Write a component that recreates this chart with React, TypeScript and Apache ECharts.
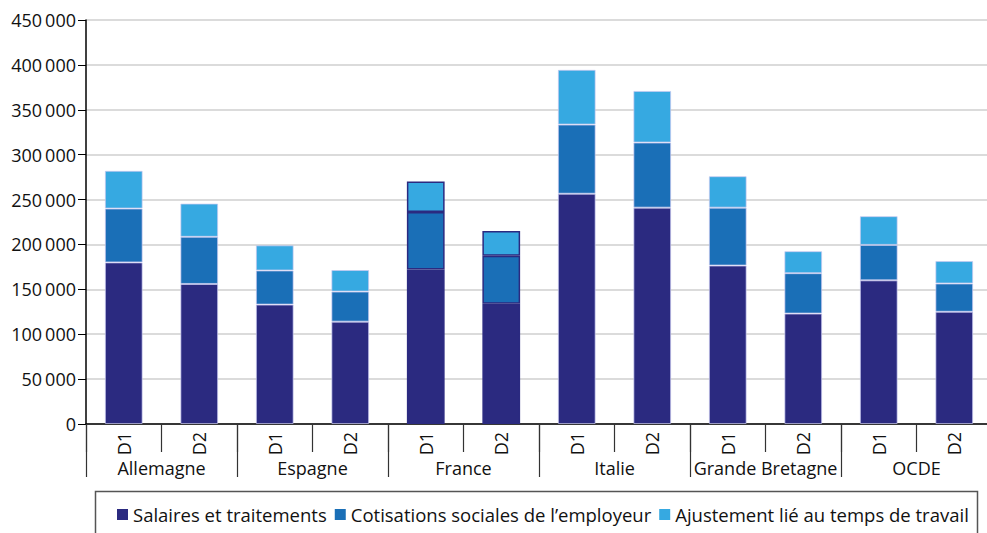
import React, { useEffect, useRef } from "react";
import * as echarts from "echarts";

const periods = ["D1", "D2", "D1", "D2", "D1", "D2", "D1", "D2", "D1", "D2", "D1", "D2"];
const countries = ["Allemagne", "Espagne", "France", "Italie", "Grande Bretagne", "OCDE"];
const salaires = [180000, 156000, 133000, 114000, 172000, 134000, 256500, 241000, 176500, 123000, 160000, 125000];
const cotisations = [60000, 52500, 38000, 33500, 64000, 53500, 77000, 72500, 64500, 45000, 39500, 31500];
const ajustement = [42000, 37000, 28000, 24000, 34000, 27500, 61000, 57500, 35000, 24500, 32000, 25000];
const seriesNames = ["Salaires et traitements", "Cotisations sociales de l\u2019employeur", "Ajustement li\u00e9 au temps de travail"];
const colors = ["#2B2A80", "#1A6FB7", "#36A9E1"];

const FONT = "Open Sans";
const FS = 18;

export default function App() {
  const ref = useRef<HTMLDivElement>(null);
  useEffect(() => {
    document.body.style.margin = "0";
    const chart = echarts.init(ref.current!, null, { renderer: "svg" });
    const mk = (vals: number[]) =>
      vals.map((v, i) => {
        const france = i === 4 || i === 5;
        return {
          value: v,
          itemStyle: france
            ? { borderColor: "#2B2A80", borderWidth: 1.5 }
            : { borderColor: "rgba(200,200,240,0.7)", borderWidth: 1 },
        };
      });
    const data = [salaires, cotisations, ajustement];
    chart.setOption({
      animation: false,
      textStyle: { fontFamily: FONT },
      grid: { left: 86, top: 20, width: 906, height: 404, containLabel: false },
      legend: {
        left: 112,
        top: 500,
        itemWidth: 11,
        itemHeight: 11,
        itemGap: 8,
        icon: "rect",
        textStyle: { fontFamily: FONT, fontSize: 18.5, color: "#111" },
        data: seriesNames,
      },
      graphic: [
        {
          type: "rect",
          shape: { x: 95.5, y: 491.5, width: 882, height: 80 },
          style: { fill: "none", stroke: "#555", lineWidth: 1.5 },
          silent: true,
        },
      ],
      xAxis: [
        {
          type: "category",
          data: periods,
          position: "bottom",
          axisLine: { show: true, lineStyle: { color: "#000", width: 1.5 } },
          axisTick: { show: true, interval: 0, length: 28, lineStyle: { color: "#333", width: 1.2 } },
          axisLabel: { interval: 0, rotate: 90, margin: 8, fontSize: FS, color: "#111", fontFamily: FONT },
        },
        {
          type: "category",
          data: countries,
          position: "bottom",
          axisLine: { show: false },
          axisTick: { show: true, interval: 0, length: 53, lineStyle: { color: "#333", width: 1.2 } },
          axisLabel: { interval: 0, margin: 35, fontSize: FS, color: "#111", fontFamily: FONT },
        },
      ],
      yAxis: {
        type: "value",
        min: 0,
        max: 450000,
        interval: 50000,
        axisLine: { show: true, lineStyle: { color: "#000", width: 1.5 } },
        axisTick: { show: true, length: 8, lineStyle: { color: "#000" } },
        splitLine: { show: true, lineStyle: { color: "#cfcfcf", width: 1.5 } },
        axisLabel: {
          margin: 10,
          fontSize: FS,
          color: "#111",
          fontFamily: FONT,
          formatter: (v: number) => {
            if (v === 0) return "0";
            const s = String(v);
            return s.slice(0, s.length - 3) + "\u2009" + s.slice(-3);
          },
        },
      },
      series: data.map((vals, ci) => ({
        name: seriesNames[ci],
        type: "bar",
        stack: "total",
        xAxisIndex: 0,
        barWidth: "50%",
        itemStyle: { color: colors[ci] },
        data: mk(vals),
      })),
    });
    return () => chart.dispose();
  }, []);
  return (
    <div style={{ width: 987, height: 533, overflow: "hidden", position: "relative" }}>
      <div ref={ref} style={{ width: 1000, height: 533 }} />
    </div>
  );
}
